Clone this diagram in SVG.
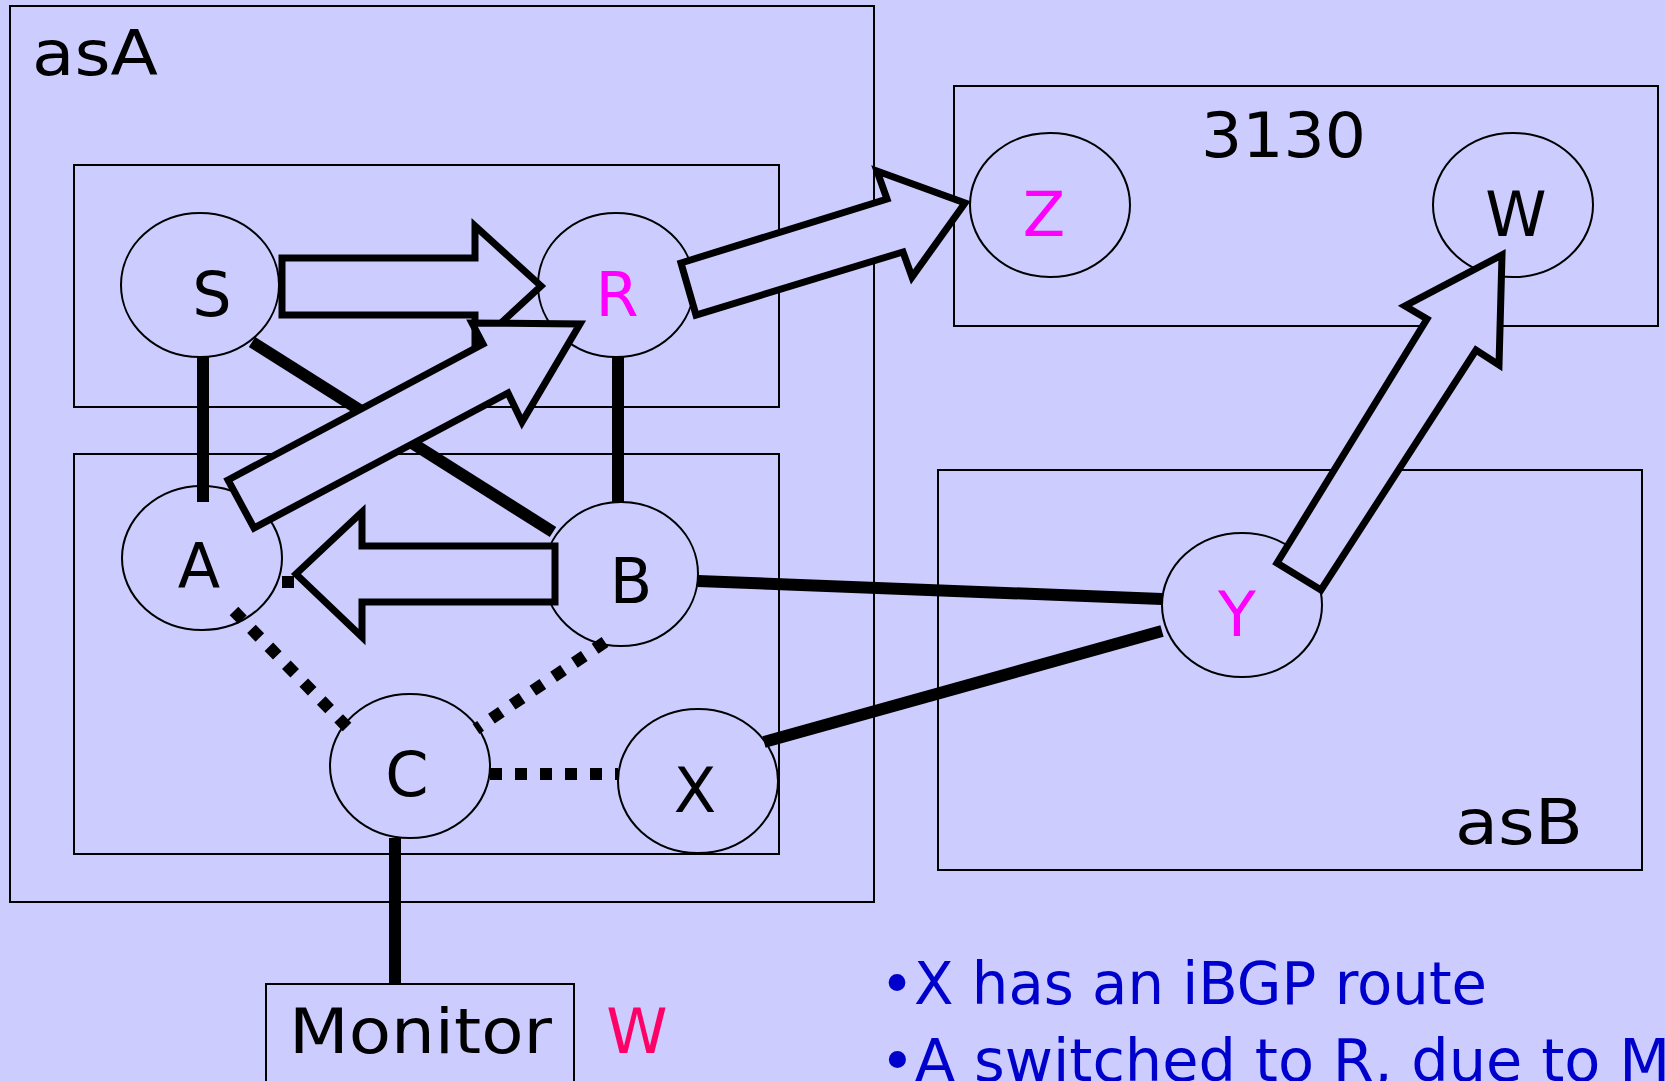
<svg xmlns="http://www.w3.org/2000/svg" width="1665" height="1081" viewBox="0 0 1665 1081">
<style>
.box{fill:none;stroke:#000;stroke-width:2}
.node{fill:#CCCCFF;stroke:#000;stroke-width:2}
.lbl{font-family:"DejaVu Sans",Verdana,sans-serif;font-size:62px;fill:#000}
.mag{fill:#FF00FF}
.link{stroke:#000;stroke-width:12;fill:none}
.dot{stroke:#000;stroke-width:12;fill:none;stroke-dasharray:12 13}
.barrow{fill:#CCCCFF;stroke:#000;stroke-width:7;stroke-linejoin:miter}
.note{font-family:"DejaVu Sans",Verdana,sans-serif;font-size:59px;fill:#0000CC}
</style>
<rect x="0" y="0" width="1665" height="1081" fill="#CCCCFF"/>
<g id="asA">
<rect class="box" x="10" y="6" width="864" height="896"/>
<text class="lbl" x="32" y="75" textLength="126" lengthAdjust="spacingAndGlyphs">asA</text>
</g>
<g id="groupTop"><rect class="box" x="74" y="165" width="705" height="242"/></g>
<g id="groupBottom"><rect class="box" x="74" y="454" width="705" height="400"/></g>
<g id="as3130">
<rect class="box" x="954" y="86" width="704" height="240"/>
<text class="lbl" x="1201" y="157" textLength="165" lengthAdjust="spacingAndGlyphs">3130</text>
</g>
<g id="asB">
<rect class="box" x="938" y="470" width="704" height="400"/>
<text class="lbl" x="1455" y="844" textLength="128" lengthAdjust="spacingAndGlyphs">asB</text>
</g>
<g id="monitor">
<rect class="box" x="266" y="984" width="308" height="110"/>
<text class="lbl" x="289" y="1053" textLength="263" lengthAdjust="spacingAndGlyphs">Monitor</text>
</g>
<g id="monitorW"><text class="lbl" x="637" y="1053" text-anchor="middle" style="fill:#FF0066">W</text></g>
<g id="nodeS"><ellipse class="node" cx="200" cy="285" rx="79" ry="72"/><text class="lbl" x="212" y="316" text-anchor="middle">S</text></g>
<g id="nodeR"><ellipse class="node" cx="616" cy="285" rx="78" ry="72"/><text class="lbl mag" x="617" y="316" text-anchor="middle">R</text></g>
<g id="nodeA"><ellipse class="node" cx="202" cy="558" rx="80" ry="72"/><text class="lbl" x="199" y="588" text-anchor="middle">A</text></g>
<g id="nodeB"><ellipse class="node" cx="621" cy="574" rx="77" ry="72"/><text class="lbl" x="631" y="603" text-anchor="middle">B</text></g>
<g id="nodeC"><ellipse class="node" cx="410" cy="766" rx="80" ry="72"/><text class="lbl" x="407" y="796" text-anchor="middle">C</text></g>
<g id="nodeX"><ellipse class="node" cx="698" cy="781" rx="80" ry="72"/><text class="lbl" x="695" y="812" text-anchor="middle">X</text></g>
<g id="nodeZ"><ellipse class="node" cx="1050" cy="205" rx="80" ry="72"/><text class="lbl mag" x="1044" y="236" text-anchor="middle">Z</text></g>
<g id="nodeW"><ellipse class="node" cx="1513" cy="205" rx="80" ry="72"/><text class="lbl" x="1516" y="236" text-anchor="middle">W</text></g>
<g id="nodeY"><ellipse class="node" cx="1242" cy="605" rx="80" ry="72"/><text class="lbl mag" x="1237" y="636" text-anchor="middle">Y</text></g>
<g id="connectors">
<line class="link" x1="203" y1="357" x2="203" y2="502"/>
<line class="link" x1="618" y1="357" x2="618" y2="502"/>
<line class="link" x1="252" y1="342" x2="553" y2="532"/>
<line class="link" x1="698" y1="581" x2="1162" y2="599"/>
<line class="link" x1="764" y1="742" x2="1162" y2="631"/>
<line class="link" x1="395" y1="838" x2="395" y2="984"/>
<line class="dot" x1="234" y1="611" x2="348" y2="728"/>
<line class="dot" x1="605" y1="642" x2="476" y2="729"/>
<line class="dot" x1="490" y1="774" x2="618" y2="774"/>
<rect x="282" y="576" width="12" height="12" fill="#000"/>
<polygon class="barrow" points="282,258 475,258 475,226 541,286 475,347 475,315 282,315"/>
<polygon class="barrow" points="228,480 483,344 472,323 580,324 522,422 508,393 254,528"/>
<polygon class="barrow" points="555,546 362,546 362,512 296,574 362,637 362,602 555,602"/>
<polygon class="barrow" points="681,263 887,199 877,171 965,203 912,277 903,252 696,315"/>
<polygon class="barrow" points="1277,563 1427,319 1405,306 1502,255 1499,365 1476,350 1321,590"/>
</g>
<g id="notes">
<text class="note" x="880" y="1004" textLength="607" lengthAdjust="spacingAndGlyphs">•X has an iBGP route</text>
<text class="note" x="880" y="1081">•A switched to R, due to M</text>
</g>
</svg>
